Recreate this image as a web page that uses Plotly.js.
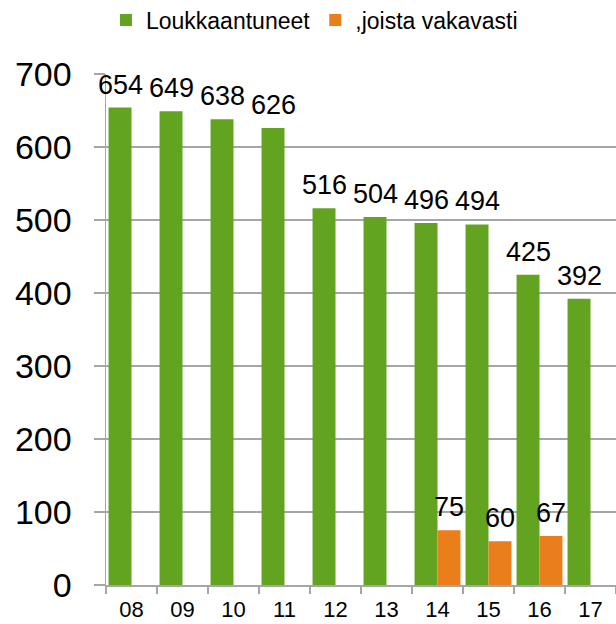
<!DOCTYPE html>
<html>
<head>
<meta charset="utf-8">
<script src="https://cdn.plot.ly/plotly-3.0.1.min.js"></script>
<style>html,body{margin:0;padding:0;background:#fff;}#chart{width:616px;height:624px;}</style>
</head>
<body>
<div id="chart"></div>
<script>
const years = ['08','09','10','11','12','13','14','15','16','17'];
const injured = [654,649,638,626,516,504,496,494,425,392];
const seriousYears = ['14','15','16'];
const serious = [75,60,67];
const seriesNames = ['Loukkaantuneet', ',joista vakavasti'];
const yTicks = [0,100,200,300,400,500,600,700];

const GREEN = '#62A420';
const ORANGE = '#EA7E1B';
const GRID = '#A6A6A6';
const FONT = 'Liberation Sans, Arial, sans-serif';

const seriousFull = years.map(y => {
  const i = seriousYears.indexOf(y);
  return i >= 0 ? serious[i] : null;
});

const traces = [
  {type:'bar', name:seriesNames[0], x:years, y:injured, marker:{color:GREEN}, hoverinfo:'none'},
  {type:'bar', name:seriesNames[1], x:years, y:seriousFull, marker:{color:ORANGE}, hoverinfo:'none'}
];

const annotations = [];
years.forEach((yr,i) => {
  annotations.push({x:i, y:injured[i], xref:'x', yref:'y', text:String(injured[i]),
    showarrow:false, xanchor:'center', yanchor:'bottom', xshift:-11.5, yshift:6,
    font:{family:FONT, size:27, color:'#000'}});
});
seriousYears.forEach((yr,i) => {
  annotations.push({x:years.indexOf(yr), y:serious[i], xref:'x', yref:'y', text:String(serious[i]),
    showarrow:false, xanchor:'center', yanchor:'bottom', xshift:11.5, yshift:6,
    font:{family:FONT, size:27, color:'#000'}});
});

const layout = {
  width:616, height:624,
  margin:{l:106, r:0, t:74, b:39},
  paper_bgcolor:'#fff', plot_bgcolor:'#fff',
  barmode:'group', bargap:0.1, bargroupgap:0,
  font:{family:FONT, color:'#000'},
  showlegend:true,
  legend:{orientation:'h', xref:'container', yref:'container', x:0.172, y:1-20/624,
    xanchor:'left', yanchor:'middle', font:{family:FONT, size:23, color:'#000'},
    traceorder:'normal', itemwidth:30},
  xaxis:{type:'category', range:[-0.5, years.length-0.5], showgrid:false, showline:true,
    linecolor:GRID, linewidth:1.5, tickangle:0,
    ticks:'outside', tickson:'boundaries', ticklen:7, tickcolor:GRID, tickwidth:1.5,
    ticklabelstandoff:4,
    tickfont:{family:FONT, size:22, color:'#000'}, fixedrange:true},
  yaxis:{range:[0,700], tickvals:yTicks, showgrid:true, gridcolor:GRID, gridwidth:1.5,
    showline:true, linecolor:GRID, linewidth:1.5, zeroline:false,
    ticks:'outside', ticklen:11, tickcolor:GRID, tickwidth:1.5,
    ticklabelstandoff:15,
    tickfont:{family:FONT, size:34, color:'#000'}, fixedrange:true},
  annotations:annotations
};

Plotly.newPlot('chart', traces, layout, {displayModeBar:false, staticPlot:true});
</script>
</body>
</html>
